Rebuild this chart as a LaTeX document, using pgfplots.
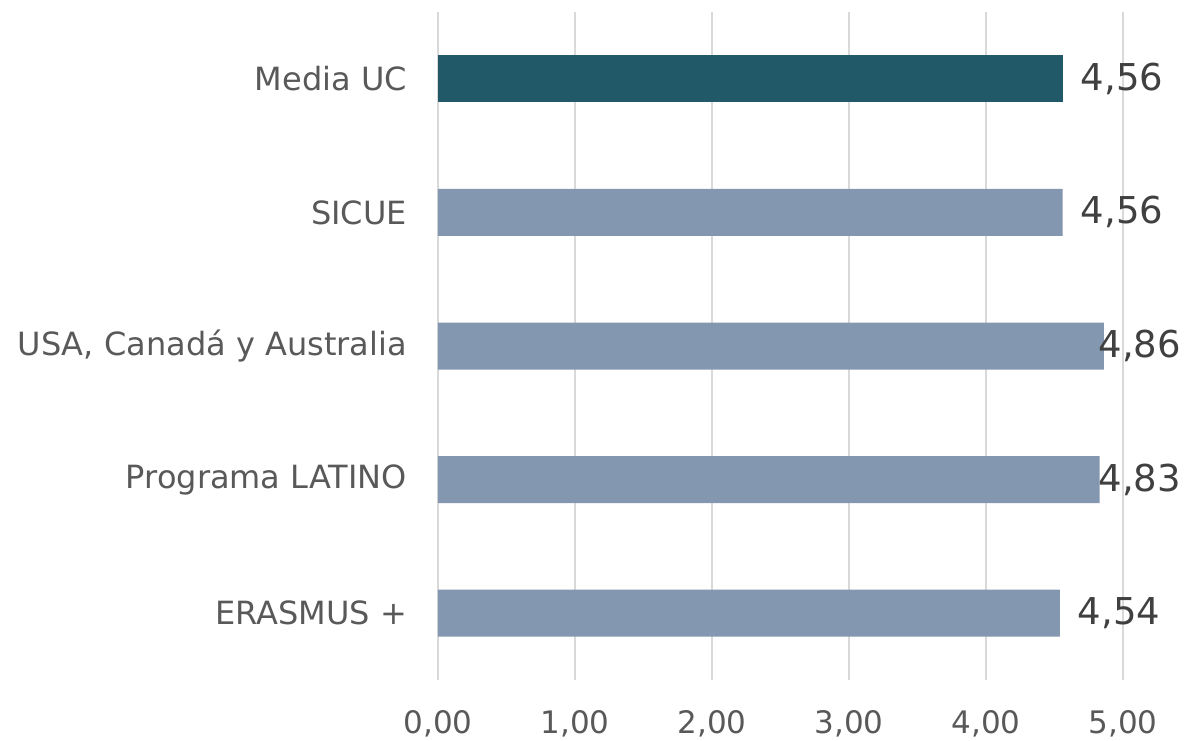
\documentclass[border=0pt]{standalone}
\usepackage{pgfplots}
\pgfplotsset{compat=1.18}
\usepackage{fontspec}
\setmainfont{DejaVu Sans}
\definecolor{tealc}{HTML}{215968}
\definecolor{bgray}{HTML}{8497B0}
\definecolor{lgray}{HTML}{595959}
\definecolor{dgray}{HTML}{404040}
\definecolor{gridc}{HTML}{D9D9D9}
\begin{document}
\begin{tikzpicture}
\begin{axis}[
  name=ax,
  scale only axis,
  width=685bp, height=668bp,
  xmin=0, xmax=5, ymin=0.5, ymax=5.5,
  y dir=reverse,
  axis line style={draw=none},
  xtick={0,1,2,3,4,5},
  xticklabels={{0,00},{1,00},{2,00},{3,00},{4,00},{5,00}},
  ytick={1,2,3,4,5},
  yticklabels={Media UC,SICUE,{USA, Canadá y Australia},Programa LATINO,ERASMUS +},
  xmajorgrids, major grid style={draw=gridc, line width=1.5bp},
  tick style={draw=none},
  yticklabel style={font=\fontsize{32bp}{36bp}\selectfont, text=lgray, inner sep=0pt, anchor=east, xshift=-31bp},
  xticklabel style={font=\fontsize{31bp}{35bp}\selectfont, text=lgray, inner sep=0pt, anchor=north, yshift=-30bp},
  clip=false,
]
\addplot[xbar, bar width=47bp, fill=tealc, draw=none, bar shift=0pt] coordinates {(4.56,1)};
\addplot[xbar, bar width=47bp, fill=bgray, draw=none, bar shift=0pt] coordinates {(4.56,2) (4.86,3) (4.83,4) (4.54,5)};
\addplot[draw=none, mark=none, nodes near coords, point meta=explicit symbolic,
  every node near coord/.style={anchor=west, inner sep=0pt, font=\fontsize{37bp}{40bp}\selectfont, text=dgray}]
  coordinates {(4.69,1) [4,56] (4.69,2) [4,56] (4.82,3) [4,86] (4.82,4) [4,83] (4.67,5) [4,54]};
\end{axis}
\pgfresetboundingbox
\path ([shift={(-438bp,-61bp)}]ax.south west) rectangle ([shift={(748bp,680bp)}]ax.south west);
\end{tikzpicture}
\end{document}
